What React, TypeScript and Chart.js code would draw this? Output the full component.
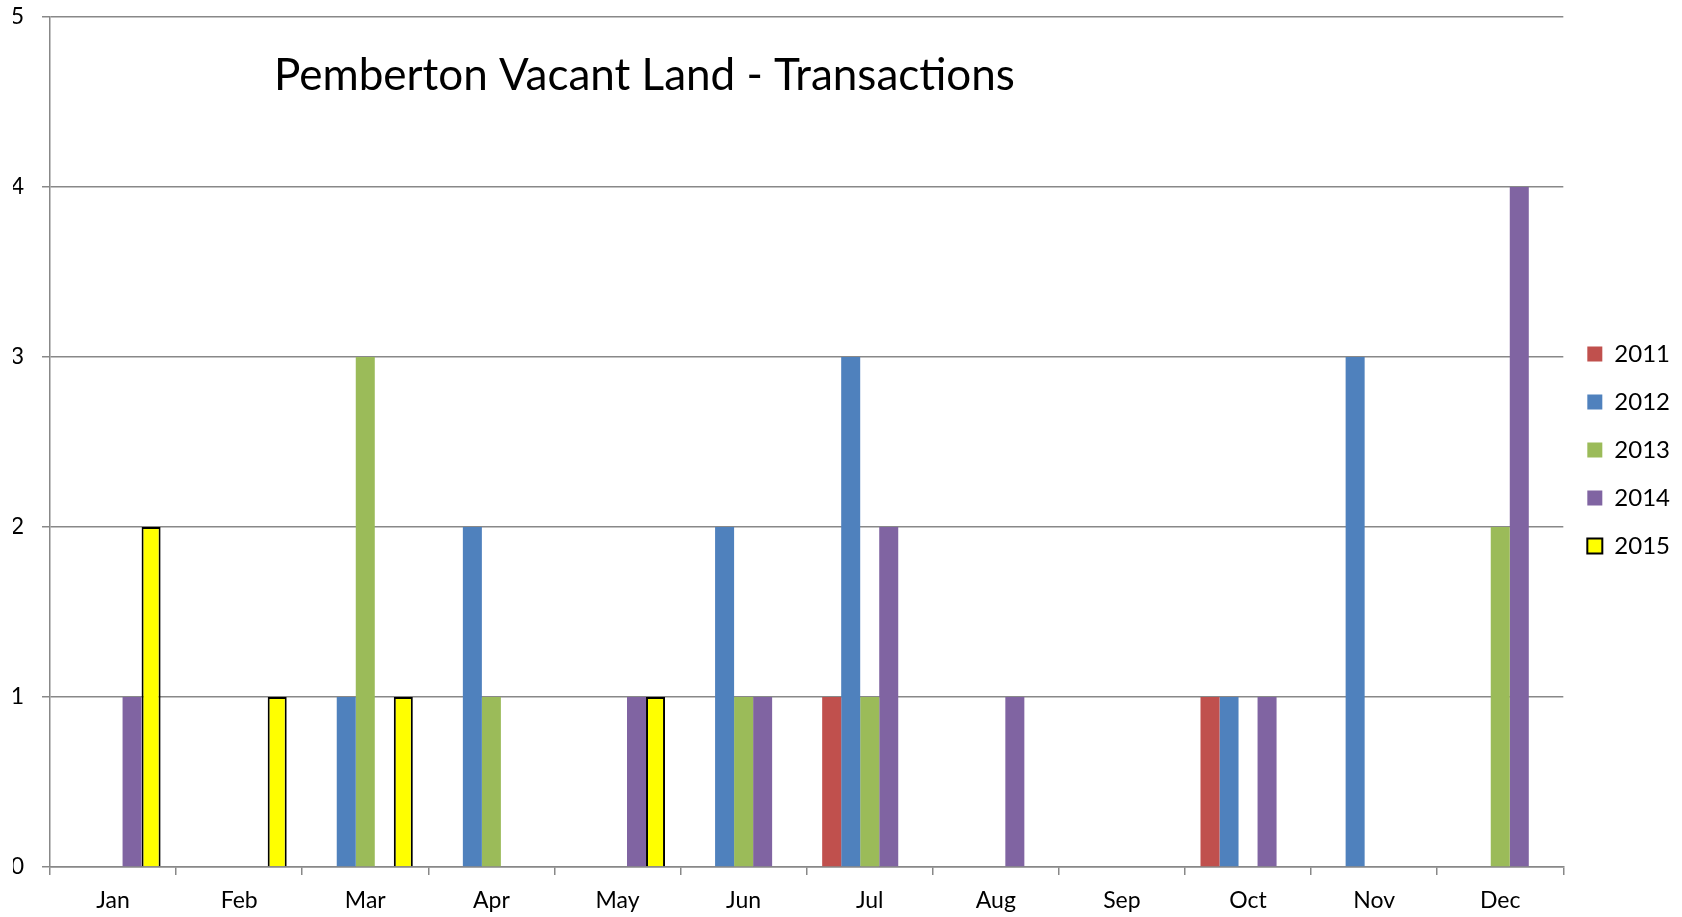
import React, { useEffect, useRef } from "react";
import { Chart, registerables } from "chart.js";

Chart.register(...registerables);

const titleText = "Pemberton Vacant Land - Transactions";
const months = ["Jan", "Feb", "Mar", "Apr", "May", "Jun", "Jul", "Aug", "Sep", "Oct", "Nov", "Dec"];
const seriesNames = ["2011", "2012", "2013", "2014", "2015"];
const s2011 = [null, null, null, null, null, null, 1, null, null, 1, null, null];
const s2012 = [null, null, 1, 2, null, 2, 3, null, null, 1, 3, null];
const s2013 = [null, null, 3, 1, null, 1, 1, null, null, null, null, 2];
const s2014 = [1, null, null, null, 1, 1, 2, 1, null, 1, null, 4];
const s2015 = [2, 1, 1, null, 1, null, null, null, null, null, null, null];
const yTicks = [0, 1, 2, 3, 4, 5];

const colors = ["#C0504D", "#4F81BD", "#9BBB59", "#8064A2", "#FFFF00"];
const FONT = "Lato, 'Open Sans', sans-serif";

export default function App() {
  const ref = useRef<HTMLCanvasElement | null>(null);

  useEffect(() => {
    document.body.style.margin = "0";
    const canvas = ref.current;
    if (!canvas) return;
    const values = [s2011, s2012, s2013, s2014, s2015];
    const titlePlugin = {
      id: "insideTitle",
      afterDraw(chart: any) {
        const ctx = chart.ctx;
        ctx.save();
        ctx.font = `44px ${FONT}`;
        ctx.fillStyle = "#000";
        ctx.textBaseline = "alphabetic";
        ctx.textAlign = "left";
        ctx.fillText(titleText, 274, 90);
        ctx.restore();
      },
    };
    const chart = new Chart(canvas, {
      type: "bar",
      data: {
        labels: months,
        datasets: seriesNames.map((name, i) => ({
          label: name,
          data: values[i],
          backgroundColor: colors[i],
          borderColor: i === 4 ? "#000000" : colors[i],
          borderWidth: i === 4 ? 2 : 0,
          categoryPercentage: 0.754,
          barPercentage: 1,
        })),
      },
      options: {
        responsive: false,
        animation: false,
        layout: { padding: { left: 13, top: 17, right: 2, bottom: 3 } },
        scales: {
          x: {
            afterFit(s: any) {
              s.height = 47;
            },
            grid: {
              display: true,
              drawOnChartArea: false,
              drawTicks: true,
              tickLength: 8,
              color: "#888888",
              lineWidth: 1.5,
              offset: true,
            },
            border: { display: true, color: "#888888", width: 1.5 },
            ticks: { color: "#000", font: { family: FONT, size: 23 }, padding: 12 },
          },
          y: {
            min: 0,
            max: 5,
            afterFit(s: any) {
              s.width = 37;
              s.paddingTop = 0;
              s.paddingBottom = 0;
            },
            afterBuildTicks(axis: any) {
              axis.ticks = yTicks.map((v) => ({ value: v }));
            },
            grid: { color: "#888888", lineWidth: 1.5, tickLength: 8 },
            border: { display: true, color: "#888888", width: 1.5 },
            ticks: { color: "#000", font: { family: FONT, size: 23 }, padding: 18 },
          },
        },
        plugins: {
          title: { display: false },
          tooltip: { enabled: false },
          legend: {
            position: "right",
            align: "center",
            fullSize: false,
            maxWidth: 120,
            title: { display: true, text: "", padding: 0, font: { size: 13.33, lineHeight: 1.2 } },
            labels: {
              boxWidth: 15,
              boxHeight: 15,
              padding: 24,
              color: "#000",
              font: { family: FONT, size: 24 },
            },
          },
        },
      },
      plugins: [titlePlugin],
    } as any);
    return () => chart.destroy();
  }, []);

  return (
    <canvas
      ref={ref}
      width={1682}
      height={917}
      style={{ position: "absolute", left: 0, top: 0, display: "block" }}
    />
  );
}
